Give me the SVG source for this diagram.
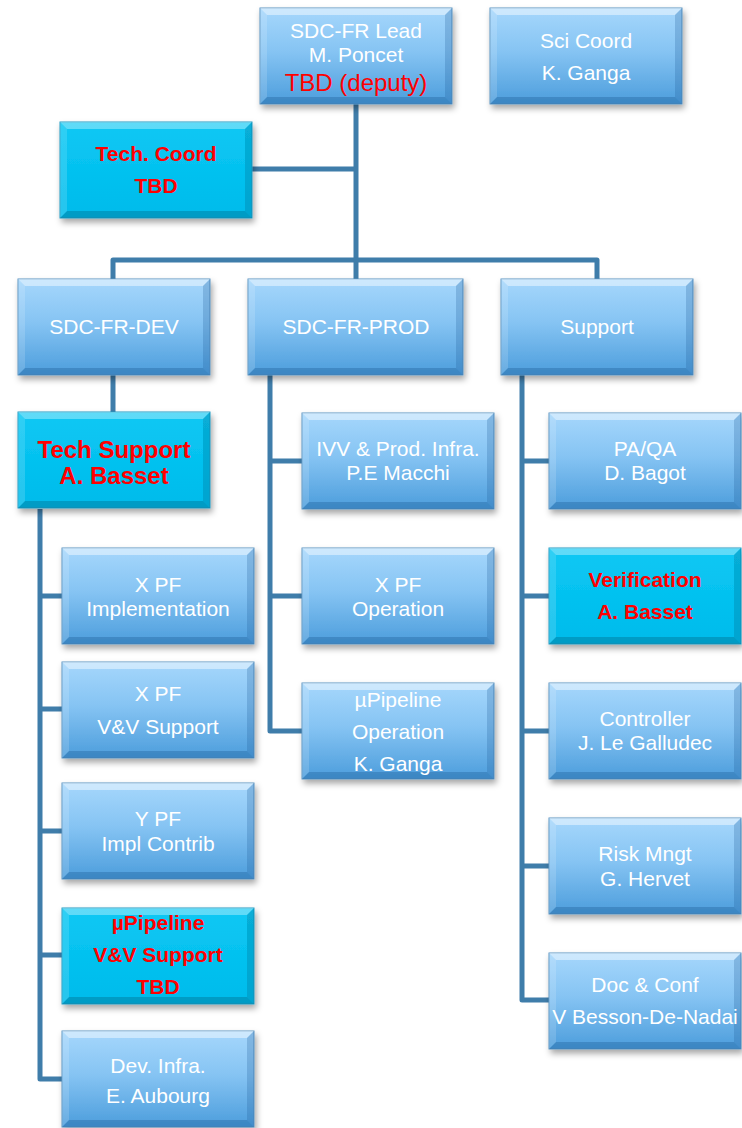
<svg xmlns="http://www.w3.org/2000/svg" xmlns:xlink="http://www.w3.org/1999/xlink" width="742" height="1128" viewBox="0 0 742 1128">
  <style>
    .wire { fill: none; stroke: #3F7DAA; stroke-width: 5; stroke-linejoin: round; }
    .t { font-family: "Liberation Sans", Arial, sans-serif; font-size: 21px; fill: #ffffff; text-anchor: middle; }
    .r { font-family: "Liberation Sans", Arial, sans-serif; font-size: 21px; font-weight: bold; fill: #ff0000; text-anchor: middle; }
    .box { filter: url(#shadow); }
  </style>
  <defs>
    <linearGradient id="gBlue" x1="0" y1="0" x2="0" y2="1">
      <stop offset="0" stop-color="#A6D7FC"/>
      <stop offset="0.45" stop-color="#86C4F3"/>
      <stop offset="1" stop-color="#4C9DDC"/>
    </linearGradient>
    <linearGradient id="gCyan" x1="0" y1="0" x2="0" y2="1">
      <stop offset="0" stop-color="#0BC8F4"/>
      <stop offset="1" stop-color="#00BBEB"/>
    </linearGradient>
    <filter id="shadow" x="-10%" y="-10%" width="125%" height="130%">
      <feDropShadow dx="2" dy="4" stdDeviation="3" flood-color="#000" flood-opacity="0.35"/>
    </filter>
    <!-- standard 192x96 bevelled box, blue -->
    <g id="blueBox">
      <rect width="192" height="96" fill="url(#gBlue)" stroke="#5B93C2" stroke-width="1"/>
      <polygon points="0,0 192,0 185,7 7,7" fill="#ffffff" opacity="0.45"/>
      <polygon points="0,96 192,96 185,89 7,89" fill="#1E5C96" opacity="0.35"/>
      <polygon points="0,0 7,7 7,89 0,96" fill="#ffffff" opacity="0.15"/>
      <polygon points="192,0 185,7 185,89 192,96" fill="#1E5C96" opacity="0.25"/>
    </g>
    <!-- standard 192x96 bevelled box, cyan highlight -->
    <g id="cyanBox">
      <rect width="192" height="96" fill="url(#gCyan)" stroke="#1E9CC4" stroke-width="1"/>
      <polygon points="0,0 192,0 185,7 7,7" fill="#ffffff" opacity="0.35"/>
      <polygon points="0,96 192,96 185,89 7,89" fill="#00607F" opacity="0.35"/>
      <polygon points="0,0 7,7 7,89 0,96" fill="#ffffff" opacity="0.15"/>
      <polygon points="192,0 185,7 185,89 192,96" fill="#00607F" opacity="0.25"/>
    </g>
  </defs>

  <rect width="742" height="1128" fill="#ffffff"/>

  <g id="connectors">
    <path class="wire" d="M356,104 V260"/>
    <path class="wire" d="M356,169 H251"/>
    <path class="wire" d="M113,279 V260 H597 V279"/>
    <path class="wire" d="M356,260 V279"/>
    <path class="wire" d="M113,375 V412"/>
    <path class="wire" d="M40,509 V1079 H62"/>
    <path class="wire" d="M40,596 H62 M40,709 H62 M40,831 H62 M40,955 H62"/>
    <path class="wire" d="M270,375 V731 H302"/>
    <path class="wire" d="M270,461 H302 M270,596 H302"/>
    <path class="wire" d="M522,375 V1000 H549"/>
    <path class="wire" d="M522,461 H549 M522,596 H549 M522,731 H549 M522,866 H549"/>
  </g>

  <g id="lead">
    <use class="box" xlink:href="#blueBox" x="260" y="8"/>
    <text class="t" x="356" y="38">SDC-FR Lead</text>
    <text class="t" x="356" y="62">M. Poncet</text>
    <text class="t" x="356" y="91" style="fill:#ff0000;font-size:24px">TBD (deputy)</text>
  </g>

  <g id="sci-coord">
    <use class="box" xlink:href="#blueBox" x="490" y="8"/>
    <text class="t" x="586" y="48">Sci Coord</text>
    <text class="t" x="586" y="80">K. Ganga</text>
  </g>

  <g id="tech-coord">
    <use class="box" xlink:href="#cyanBox" x="60" y="122"/>
    <text class="r" x="156" y="161">Tech. Coord</text>
    <text class="r" x="156" y="193">TBD</text>
  </g>

  <g id="dev">
    <use class="box" xlink:href="#blueBox" x="18" y="279"/>
    <text class="t" x="114" y="334">SDC-FR-DEV</text>
  </g>

  <g id="prod">
    <g class="box">
      <rect x="248" y="279" width="215" height="96" fill="url(#gBlue)" stroke="#5B93C2" stroke-width="1"/>
      <polygon points="248,279 463,279 456,286 255,286" fill="#ffffff" opacity="0.45"/>
      <polygon points="248,375 463,375 456,368 255,368" fill="#1E5C96" opacity="0.35"/>
      <polygon points="248,279 255,286 255,368 248,375" fill="#ffffff" opacity="0.15"/>
      <polygon points="463,279 456,286 456,368 463,375" fill="#1E5C96" opacity="0.25"/>
    </g>
    <text class="t" x="356" y="334">SDC-FR-PROD</text>
  </g>

  <g id="support">
    <use class="box" xlink:href="#blueBox" x="501" y="279"/>
    <text class="t" x="597" y="334">Support</text>
  </g>

  <g id="tech-support">
    <use class="box" xlink:href="#cyanBox" x="18" y="412"/>
    <text class="r" x="114" y="458" style="font-size:24px">Tech Support</text>
    <text class="r" x="114" y="484" style="font-size:24px">A. Basset</text>
  </g>

  <g id="xpf-impl">
    <use class="box" xlink:href="#blueBox" x="62" y="548"/>
    <text class="t" x="158" y="592">X PF</text>
    <text class="t" x="158" y="616">Implementation</text>
  </g>

  <g id="xpf-vv">
    <use class="box" xlink:href="#blueBox" x="62" y="662"/>
    <text class="t" x="158" y="701">X PF</text>
    <text class="t" x="158" y="734">V&amp;V Support</text>
  </g>

  <g id="ypf-impl">
    <use class="box" xlink:href="#blueBox" x="62" y="783"/>
    <text class="t" x="158" y="826">Y PF</text>
    <text class="t" x="158" y="851">Impl Contrib</text>
  </g>

  <g id="upipeline-vv">
    <use class="box" xlink:href="#cyanBox" x="62" y="908"/>
    <text class="r" x="158" y="930">µPipeline</text>
    <text class="r" x="158" y="962">V&amp;V Support</text>
    <text class="r" x="158" y="994">TBD</text>
  </g>

  <g id="dev-infra">
    <use class="box" xlink:href="#blueBox" x="62" y="1031"/>
    <text class="t" x="158" y="1073">Dev. Infra.</text>
    <text class="t" x="158" y="1103">E. Aubourg</text>
  </g>

  <g id="ivv">
    <use class="box" xlink:href="#blueBox" x="302" y="413"/>
    <text class="t" x="398" y="456">IVV &amp; Prod. Infra.</text>
    <text class="t" x="398" y="480">P.E Macchi</text>
  </g>

  <g id="xpf-op">
    <use class="box" xlink:href="#blueBox" x="302" y="548"/>
    <text class="t" x="398" y="592">X PF</text>
    <text class="t" x="398" y="616">Operation</text>
  </g>

  <g id="upipeline-op">
    <use class="box" xlink:href="#blueBox" x="302" y="683"/>
    <text class="t" x="398" y="707">µPipeline</text>
    <text class="t" x="398" y="739">Operation</text>
    <text class="t" x="398" y="771">K. Ganga</text>
  </g>

  <g id="paqa">
    <use class="box" xlink:href="#blueBox" x="549" y="413"/>
    <text class="t" x="645" y="456">PA/QA</text>
    <text class="t" x="645" y="480">D. Bagot</text>
  </g>

  <g id="verification">
    <use class="box" xlink:href="#cyanBox" x="549" y="548"/>
    <text class="r" x="645" y="587">Verification</text>
    <text class="r" x="645" y="619">A. Basset</text>
  </g>

  <g id="controller">
    <use class="box" xlink:href="#blueBox" x="549" y="683"/>
    <text class="t" x="645" y="726">Controller</text>
    <text class="t" x="645" y="750">J. Le Galludec</text>
  </g>

  <g id="risk">
    <use class="box" xlink:href="#blueBox" x="549" y="818"/>
    <text class="t" x="645" y="861">Risk Mngt</text>
    <text class="t" x="645" y="886">G. Hervet</text>
  </g>

  <g id="doc-conf">
    <use class="box" xlink:href="#blueBox" x="549" y="953"/>
    <text class="t" x="645" y="992">Doc &amp; Conf</text>
    <text class="t" x="645" y="1024">V Besson-De-Nadai</text>
  </g>
</svg>
